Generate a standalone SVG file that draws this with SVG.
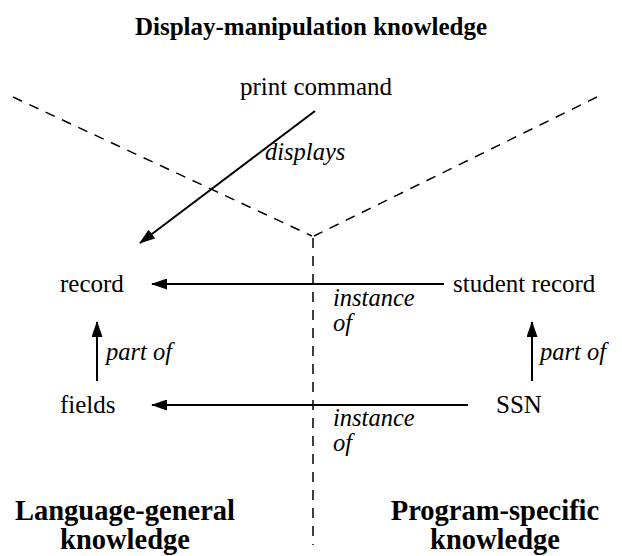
<svg xmlns="http://www.w3.org/2000/svg" width="622" height="556" viewBox="0 0 622 556">
<defs>
<marker id="ah" markerWidth="16" markerHeight="11" refX="15" refY="5.5" orient="auto" markerUnits="userSpaceOnUse" viewBox="0 0 16 11">
<path d="M0,0 L16,5.5 L0,11 z" fill="#000"/>
</marker>
<style>
.t{font-family:"Liberation Serif","Times New Roman",serif;font-size:25px;fill:#000}
.b{font-family:"Liberation Serif","Times New Roman",serif;font-size:25px;font-weight:bold;fill:#000}
.bb{font-family:"Liberation Serif","Times New Roman",serif;font-size:28.5px;font-weight:bold;fill:#000}
.i{font-family:"Liberation Serif","Times New Roman",serif;font-size:24.5px;font-style:italic;fill:#000}
.d{stroke:#000;stroke-width:1.5;stroke-dasharray:10,8;fill:none}
.a{stroke:#000;stroke-width:2;fill:none;marker-end:url(#ah)}
</style>
</defs>
<rect width="622" height="556" fill="#fff"/>
<g id="regions">
<text class="b" x="311" y="35" text-anchor="middle">Display-manipulation knowledge</text>
<text class="bb" x="125" y="520" text-anchor="middle">Language-general</text>
<text class="bb" x="125" y="549" text-anchor="middle">knowledge</text>
<text class="bb" x="495" y="520" text-anchor="middle">Program-specific</text>
<text class="bb" x="495" y="549" text-anchor="middle">knowledge</text>
<path class="d" d="M13,97 L312,236"/>
<path class="d" d="M597,97 L314,236"/>
<path class="d" d="M313,238 L313,545"/>
</g>
<g id="connectors">
<path class="a" d="M315,111 L140,243"/>
<text class="i" x="265" y="160">displays</text>
<path class="a" d="M444,284 L152,284"/>
<text class="i" x="333" y="306">instance</text>
<text class="i" x="333" y="331">of</text>
<path class="a" d="M468,405 L152,405"/>
<text class="i" x="333" y="426">instance</text>
<text class="i" x="333" y="451">of</text>
<path class="a" d="M97,381 L97,322"/>
<text class="i" x="106" y="360">part of</text>
<path class="a" d="M532,381 L532,322"/>
<text class="i" x="540" y="360">part of</text>
</g>
<g id="node-print"><text class="t" x="316" y="95" text-anchor="middle">print command</text></g>
<g id="node-record"><text class="t" x="60" y="292">record</text></g>
<g id="node-student"><text class="t" x="453" y="292">student record</text></g>
<g id="node-fields"><text class="t" x="60" y="413">fields</text></g>
<g id="node-ssn"><text class="t" x="496" y="413">SSN</text></g>
</svg>
